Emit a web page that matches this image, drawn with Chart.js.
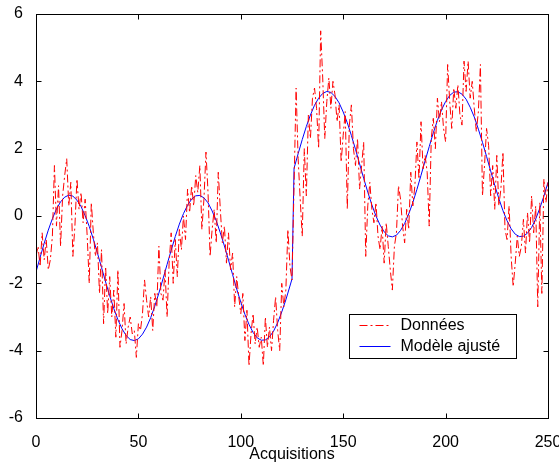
<!DOCTYPE html>
<html>
<head>
<meta charset="utf-8">
<script src="https://cdn.jsdelivr.net/npm/chart.js@4.4.0/dist/chart.umd.min.js"></script>
<style>
html,body{margin:0;padding:0;background:#fff}
</style>
</head>
<body>
<canvas id="chart" width="559" height="463"></canvas>
<script>
// ============================================
// Data
// ============================================

// noisy measurements, one per acquisition 0..250
const donnees = [
  -1.2,-0.9,-1.5,-0.5,-1.3,-0.7,-1.6,-1.3,-0.6,1.5,
  -0.3,0.9,-0.9,0.6,1.2,1.7,0.3,1.0,-1.2,-0.3,
  1.1,0.2,0.7,-0.2,0.5,-0.6,-2.0,0.4,-0.5,-1.2,
  -0.8,-2.3,-1.0,-3.2,-1.5,-2.9,-1.8,-3.0,-2.2,-3.6,
  -1.6,-3.9,-3.4,-2.6,-3.8,-3.3,-3.0,-3.5,-3.4,-4.2,
  -3.2,-3.4,-2.9,-1.9,-2.5,-3.0,-2.4,-3.4,-2.3,-2.7,
  -0.9,-2.3,-2.5,-1.6,-3.0,-1.4,-0.5,-2.0,-0.7,-1.8,
  -0.4,-1.0,0.0,-0.7,0.8,0.1,0.9,0.3,1.2,0.7,
  1.5,-0.4,0.5,1.9,0.7,-1.2,-0.4,0.2,-0.8,1.3,
  0.2,-0.8,-0.3,-1.4,-0.5,-1.6,-1.1,-2.7,-1.8,-2.4,
  -2.9,-2.3,-3.7,-2.8,-4.45,-3.5,-2.9,-3.8,-3.3,-3.9,
  -3.6,-4.45,-3.0,-3.9,-3.3,-4.0,-3.1,-2.4,-3.4,-4.0,
  -2.0,-2.7,-2.2,-0.4,-1.5,-1.9,0.9,3.8,1.7,0.5,
  -0.6,2.0,0.6,3.0,2.3,3.5,3.8,3.2,2.0,5.5,
  4.1,2.3,3.4,4.1,3.2,4.0,3.6,2.8,3.3,1.6,
  2.4,3.1,0.2,2.7,3.3,2.0,1.5,2.3,0.8,1.5,
  2.2,-1.2,0.3,1.0,0.2,-0.2,0.4,-0.6,-1.0,-0.3,
  -1.4,-0.2,-0.9,-1.6,-2.2,-0.9,-0.5,0.9,0.5,-0.3,
  -0.8,0.2,-0.4,1.3,0.3,0.9,2.2,1.1,2.8,1.4,
  1.8,1.3,-0.3,2.3,2.9,2.0,3.5,2.8,3.4,2.6,
  2.2,4.5,3.4,2.6,3.8,3.2,3.9,3.0,2.7,4.6,
  3.7,4.6,3.5,4.0,3.2,2.5,3.1,4.5,0.6,1.5,
  2.6,2.1,0.6,1.5,0.2,1.8,0.3,0.8,1.9,-0.4,
  -0.7,0.3,-1.2,-2.1,-1.4,-0.6,-1.2,-0.9,-0.1,-1.1,
  0.1,-0.8,0.6,-0.5,0.3,-2.7,0.4,-2.3,1.1,0.4,
  1.0
];

// fitted model, sampled along the curve
const modeleX = [
  0,2,4,6,8,10,12,14,16,18,20,22,24,26,28,30,32,34,36,38,
  40,42,44,46,48,50,52,54,56,58,60,62,64,66,68,70,72,74,76,78,
  80,82,84,86,88,90,92,94,96,98,100,102,104,106,108,110,112,114,116,118,
  120,122,124,125,
  126,128,130,132,134,136,138,140,142,144,146,148,150,152,154,156,158,160,162,164,
  166,168,170,172,174,176,178,180,182,184,186,188,190,192,194,196,198,200,202,204,
  206,208,210,212,214,216,218,220,222,224,226,228,230,232,234,236,238,240,242,244,
  246,248,250
];

const modeleY = [
  -1.66,-1.23,-0.81,-0.42,-0.08,0.21,0.42,0.56,0.62,0.59,
  0.47,0.28,0.01,-0.31,-0.69,-1.10,-1.53,-1.96,-2.37,-2.75,
  -3.08,-3.35,-3.55,-3.67,-3.70,-3.65,-3.51,-3.30,-3.02,-2.68,
  -2.29,-1.87,-1.44,-1.02,-0.61,-0.24,0.07,0.32,0.50,0.60,
  0.61,0.54,0.39,0.15,-0.14,-0.50,-0.89,-1.31,-1.74,-2.17,
  -2.56,-2.92,-3.22,-3.46,-3.62,-3.69,-3.68,-3.59,-3.42,-3.17,
  -2.85,-2.49,-2.08,-1.87,
  1.42,1.85,2.27,2.66,3.00,3.29,3.50,3.64,3.70,3.67,
  3.55,3.36,3.09,2.77,2.39,1.98,1.55,1.12,0.71,0.33,
  0.00,-0.27,-0.47,-0.59,-0.62,-0.57,-0.43,-0.22,0.06,0.40,
  0.79,1.21,1.64,2.06,2.47,2.84,3.15,3.40,3.58,3.68,
  3.69,3.62,3.47,3.23,2.94,2.58,2.19,1.77,1.34,0.91,
  0.52,0.16,-0.14,-0.38,-0.54,-0.61,-0.60,-0.51,-0.34,-0.09,
  0.23,0.59,1.00
];

const seriesLabels = ["Données", "Modèle ajusté"];
const xTitle = "Acquisitions";

const FONT = "'Liberation Sans', Arial, Helvetica, sans-serif";


// ============================================
// Frame + inward ticks (MATLAB style box)
// ============================================

const boxPlugin = {
  id: "box",
  afterDraw(chart) {
    const ctx = chart.ctx;
    const a = chart.chartArea;
    const xs = chart.scales.x;
    const ys = chart.scales.y;
    const L = Math.round(a.left) + 0.5, R = Math.round(a.right) + 0.5;
    const T = Math.round(a.top) + 0.5, B = Math.round(a.bottom) + 0.5;
    const len = 5;

    ctx.save();
    ctx.strokeStyle = "#000";
    ctx.lineWidth = 1;
    ctx.strokeRect(L, T, R - L, B - T);

    ctx.beginPath();
    xs.ticks.forEach(t => {
      const px = Math.round(xs.getPixelForValue(t.value)) + 0.5;
      ctx.moveTo(px, B); ctx.lineTo(px, B - len);
      ctx.moveTo(px, T); ctx.lineTo(px, T + len);
    });
    ys.ticks.forEach(t => {
      const py = Math.round(ys.getPixelForValue(t.value)) + 0.5;
      ctx.moveTo(L, py); ctx.lineTo(L + len, py);
      ctx.moveTo(R, py); ctx.lineTo(R - len, py);
    });
    ctx.stroke();
    ctx.restore();
  }
};


// ============================================
// Legend box inside the axes (bottom right)
// ============================================

const legendPlugin = {
  id: "legendBox",
  afterDraw(chart) {
    const ctx = chart.ctx;
    const bx = 349.5, by = 314.5, bw = 167, bh = 44;

    ctx.save();
    ctx.fillStyle = "#fff";
    ctx.fillRect(bx, by, bw, bh);
    ctx.strokeStyle = "#000";
    ctx.lineWidth = 1;
    ctx.strokeRect(bx, by, bw, bh);

    ctx.font = "16px " + FONT;
    ctx.textBaseline = "middle";
    ctx.fillStyle = "#000";

    chart.data.datasets.forEach((ds, i) => {
      const ly = by + 11 + i * 21;
      ctx.strokeStyle = ds.borderColor;
      ctx.setLineDash(ds.borderDash || []);
      ctx.beginPath();
      ctx.moveTo(bx + 10, ly);
      ctx.lineTo(bx + 41, ly);
      ctx.stroke();
      ctx.setLineDash([]);
      ctx.fillText(ds.label, bx + 51, ly);
    });
    ctx.restore();
  }
};


// ============================================
// Chart
// ============================================

new Chart(document.getElementById("chart"), {
  type: "line",
  data: {
    datasets: [
      {
        label: seriesLabels[0],
        data: donnees.map((v, i) => ({ x: i, y: v })),
        borderColor: "#ff0000",
        borderWidth: 1,
        borderDash: [8, 3, 2, 3],
        pointRadius: 0,
        tension: 0
      },
      {
        label: seriesLabels[1],
        data: modeleX.map((x, i) => ({ x: x, y: modeleY[i] })),
        borderColor: "#0000ff",
        borderWidth: 1,
        pointRadius: 0,
        tension: 0
      }
    ]
  },
  options: {
    responsive: false,
    animation: false,
    layout: { padding: { left: 0, right: 11, top: 14, bottom: 0 } },
    plugins: {
      legend: { display: false },
      tooltip: { enabled: false }
    },
    scales: {
      x: {
        type: "linear",
        min: 0,
        max: 250,
        grid: { display: false },
        border: { display: false },
        ticks: {
          stepSize: 50,
          padding: 7,
          maxRotation: 0,
          color: "#000",
          font: { family: FONT, size: 16 }
        },
        title: {
          display: true,
          text: xTitle,
          color: "#000",
          font: { family: FONT, size: 16, lineHeight: 1 },
          padding: { top: 0, bottom: 0 }
        },
        afterFit(scale) {
          scale.height = 45;
          scale.paddingLeft = 0;
          scale.paddingRight = 0;
        }
      },
      y: {
        min: -6,
        max: 6,
        grid: { display: false },
        border: { display: false },
        ticks: {
          stepSize: 2,
          padding: 5,
          color: "#000",
          font: { family: FONT, size: 16 }
        },
        afterFit(scale) {
          scale.width = 36;
          scale.paddingTop = 0;
          scale.paddingBottom = 0;
        }
      }
    }
  },
  plugins: [boxPlugin, legendPlugin]
});
</script>
</body>
</html>
